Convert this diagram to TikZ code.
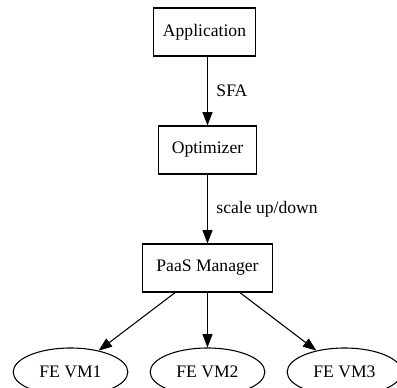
\documentclass[tikz,border=0pt]{standalone}
\usepackage{fontspec}
\setmainfont{Liberation Serif}
\usetikzlibrary{arrows.meta}
\usetikzlibrary{shapes.geometric}
\tikzset{
  box/.style={draw, rectangle, line width=0.8pt, minimum height=36pt, inner sep=0pt},
  vm/.style={draw, ellipse, line width=0.8pt, minimum width=86pt, minimum height=36pt, inner sep=0pt},
  flow/.style={line width=0.8pt, -{Triangle[length=10pt, width=7.5pt]}},
}

\begin{document}
\begin{tikzpicture}[x=0.75pt, y=-0.75pt, font=\fontsize{13.2}{15}\selectfont]
  \useasboundingbox (0,0) rectangle (397,388);
  \node[box, minimum width=77pt] (app) at (204.5,32) {Application};
  \node[box, minimum width=73.5pt] (opt) at (207.5,150) {Optimizer};
  \node[box, minimum width=97pt] (pm) at (207.5,268) {PaaS Manager};
  \node[vm] (vm1) at (70.5,372) {FE VM1};
  \node[vm] (vm2) at (207.5,372) {FE VM2};
  \node[vm] (vm3) at (344.5,372) {FE VM3};
  % edges
  \draw[flow] (app.south -| opt.north) -- (opt.north) node[midway, right=3pt] {SFA};
  \draw[flow] (opt) -- (pm) node[midway, right=3pt] {scale up/down};
  \draw[flow] (pm) -- (vm1);
  \draw[flow] (pm) -- (vm2);
  \draw[flow] (pm) -- (vm3);
\end{tikzpicture}
\end{document}
